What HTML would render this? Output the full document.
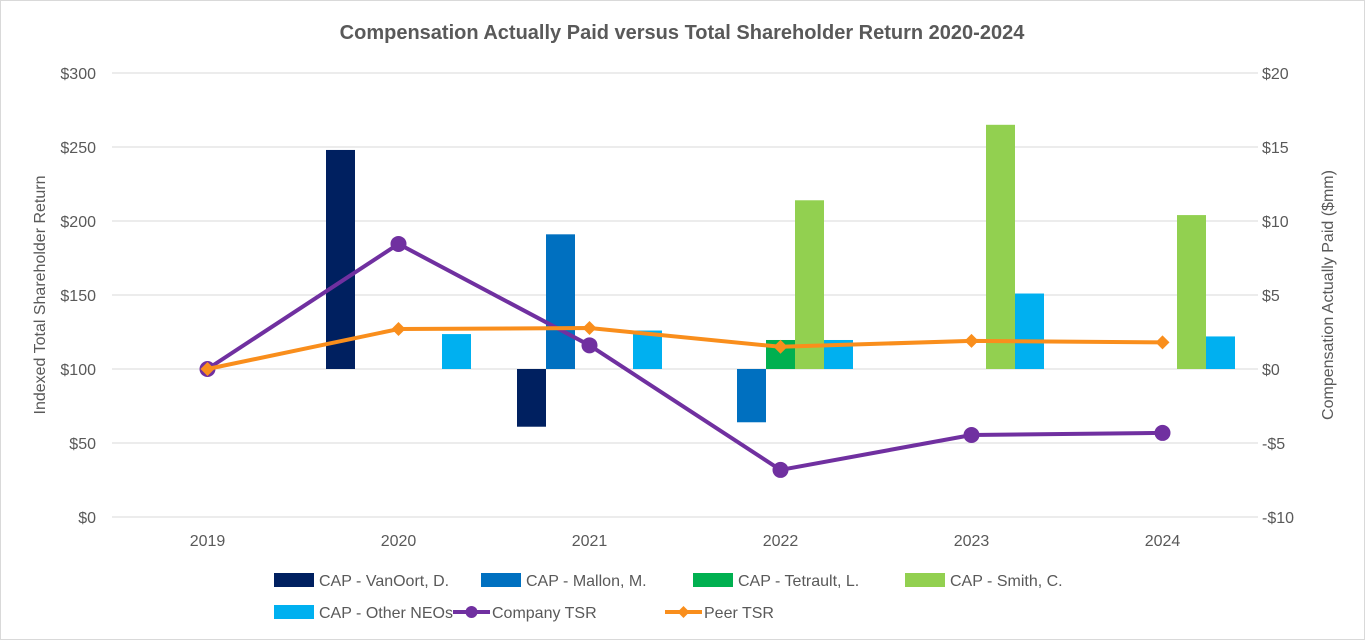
<!DOCTYPE html>
<html><head><meta charset="utf-8"><style>
body{margin:0;background:#fff;}
svg{display:block;font-family:"Liberation Sans",Arial,sans-serif;}
</style></head><body>
<svg id="c" width="1365" height="640">
<rect x="0.5" y="0.5" width="1364" height="639" fill="#fff" stroke="#d9d9d9"/>
<text x="682" y="39" text-anchor="middle" font-size="20" font-weight="bold" fill="#595959">Compensation Actually Paid versus Total Shareholder Return 2020-2024</text>
<text transform="translate(45,295) rotate(-90)" text-anchor="middle" font-size="16" fill="#595959">Indexed Total Shareholder Return</text>
<text transform="translate(1333,295) rotate(-90)" text-anchor="middle" font-size="16" fill="#595959">Compensation Actually Paid ($mm)</text>
<g id="grid"></g><g id="bars"></g><g id="lines"></g><g id="axes"></g>
<g id="legend" font-size="16" fill="#595959"></g>
</svg>
<script>
const years=["2019","2020","2021","2022","2023","2024"];
const leftTicks=[0,50,100,150,200,250,300];
const rightTicks=[-10,-5,0,5,10,15,20];
const capVanOort=[null,14.8,-3.9,null,null,null];
const capMallon=[null,null,9.1,-3.6,null,null];
const capTetrault=[null,null,null,1.96,null,null];
const capSmith=[null,null,null,11.4,16.5,10.4];
const capOther=[null,2.36,2.6,1.96,5.1,2.2];
const companyTSR=[100,184.5,116,31.8,55.4,56.8];
const peerTSR=[100,127,127.7,115,119,118];
const NS="http://www.w3.org/2000/svg";
const X0=112,BAND=191,YT=73,YB=517;
const yL=v=>YB-(v/300)*(YB-YT);
const yR=v=>YB-((v+10)/30)*(YB-YT);
const xC=i=>X0+BAND*(i+0.5);
function mk(tag,attrs,parent){const e=document.createElementNS(NS,tag);for(const k in attrs)e.setAttribute(k,attrs[k]);document.getElementById(parent).appendChild(e);return e;}
leftTicks.forEach((t,i)=>{
 const g=mk("line",{x1:X0,x2:X0+BAND*6,y1:yL(t),y2:yL(t),stroke:"#d9d9d9"},"grid");
 
 
 const l=mk("text",{x:96,y:yL(t)+6,"text-anchor":"end","font-size":16,fill:"#595959"},"axes");
 l.textContent="$"+t;
 
 
});
rightTicks.forEach(t=>{
 const l=mk("text",{x:1262,y:yR(t)+6,"font-size":16,fill:"#595959"},"axes");
 l.textContent=(t<0?"-$"+(-t):"$"+t);
 
 
});
years.forEach((y,i)=>{
 const l=mk("text",{x:xC(i),y:546,"text-anchor":"middle","font-size":16,fill:"#595959"},"axes");
 l.textContent=y;
 
 
});
const series=[[capVanOort,"#002060","vanoort"],[capMallon,"#0070C0","mallon"],[capTetrault,"#00B050","tetrault"],[capSmith,"#92D050","smith"],[capOther,"#00B0F0","other-neos"]];
const BW=29;
series.forEach((s,j)=>{
 s[0].forEach((v,i)=>{
  if(v===null)return;
  const x=xC(i)-2.5*BW+j*BW;
  const y0=yR(0),y1=yR(v);
  const r=mk("rect",{x:x,y:Math.min(y0,y1),width:BW,height:Math.abs(y1-y0),fill:s[1]},"bars");
  
  
 });
});
function line(arr,color,name,marker){
 const pts=arr.map((v,i)=>xC(i)+","+yL(v)).join(" ");
 const p=mk("polyline",{points:pts,fill:"none",stroke:color,"stroke-width":4,"stroke-linejoin":"round"},"lines");
 
 
 arr.forEach((v,i)=>{
  let m;
  if(marker==="c")m=mk("circle",{cx:xC(i),cy:yL(v),r:8,fill:color},"lines");
  else {const x=xC(i),y=yL(v);m=mk("polygon",{points:`${x},${y-7} ${x+7},${y} ${x},${y+7} ${x-7},${y}`,fill:color},"lines");}
  
  
 });
}
line(companyTSR,"#7030A0","company-tsr","c");
line(peerTSR,"#F98E1C","peer-tsr","d");
const leg=[["CAP - VanOort, D.","#002060",274,580,"sq"],["CAP - Mallon, M.","#0070C0",481,580,"sq"],["CAP - Tetrault, L.","#00B050",693,580,"sq"],["CAP - Smith, C.","#92D050",905,580,"sq"],["CAP - Other NEOs","#00B0F0",274,612,"sq"],["Company TSR","#7030A0",453,612,"c"],["Peer TSR","#F98E1C",665,612,"d"]];
leg.forEach(l=>{
 const g=mk("g",{},"legend");
 
 
 if(l[4]==="sq"){g.appendChild(Object.assign(document.createElementNS(NS,"rect"),{}));g.lastChild.setAttribute("x",l[2]);g.lastChild.setAttribute("y",l[3]-7);g.lastChild.setAttribute("width",40);g.lastChild.setAttribute("height",14);g.lastChild.setAttribute("fill",l[1]);}
 else{
  const ln=document.createElementNS(NS,"line");ln.setAttribute("x1",l[2]);ln.setAttribute("x2",l[2]+37);ln.setAttribute("y1",l[3]);ln.setAttribute("y2",l[3]);ln.setAttribute("stroke",l[1]);ln.setAttribute("stroke-width",4);g.appendChild(ln);
  const cx=l[2]+18.5,cy=l[3];
  const m=document.createElementNS(NS,l[4]==="c"?"circle":"polygon");
  if(l[4]==="c"){m.setAttribute("cx",cx);m.setAttribute("cy",cy);m.setAttribute("r",6);}
  else m.setAttribute("points",`${cx},${cy-6} ${cx+6},${cy} ${cx},${cy+6} ${cx-6},${cy}`);
  m.setAttribute("fill",l[1]);g.appendChild(m);
 }
 const t=document.createElementNS(NS,"text");t.setAttribute("x",l[4]==="sq"?l[2]+45:l[2]+39);t.setAttribute("y",l[3]+6);t.textContent=l[0];g.appendChild(t);
});
</script>
</body></html>
